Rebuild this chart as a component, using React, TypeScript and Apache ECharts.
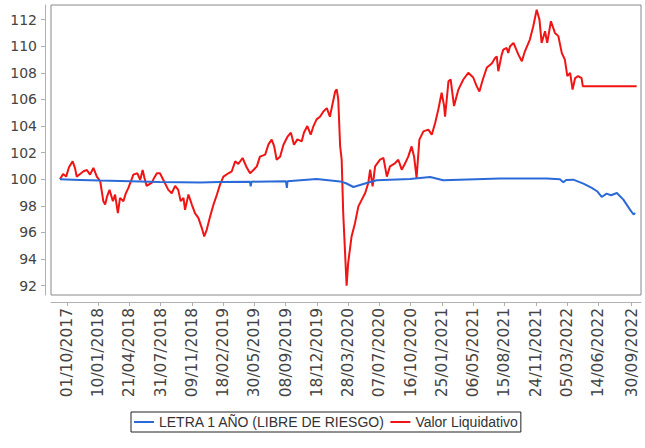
import React, { useEffect, useRef } from "react";
import * as echarts from "echarts";

const tickDates = [
  "2017-10-01", "2018-01-10", "2018-04-21", "2018-07-31", "2018-11-09", "2019-02-18",
  "2019-05-30", "2019-09-08", "2019-12-18", "2020-03-28", "2020-07-07", "2020-10-16",
  "2021-01-25", "2021-05-06", "2021-08-15", "2021-11-24", "2022-03-05", "2022-06-14",
  "2022-09-30",
];
const yTicks = [92, 94, 96, 98, 100, 102, 104, 106, 108, 110, 112];

const seriesNames = ["LETRA 1 AÑO (LIBRE DE RIESGO)", "Valor Liquidativo"];

const redDates = [
  "2017-09-09", "2017-09-19", "2017-09-29", "2017-10-08", "2017-10-20", "2017-10-28", "2017-11-02",
  "2017-11-13", "2017-11-24", "2017-12-05", "2017-12-15", "2017-12-26", "2018-01-06", "2018-01-17",
  "2018-01-27", "2018-02-02", "2018-02-08", "2018-02-16", "2018-02-27", "2018-03-06", "2018-03-15",
  "2018-03-22", "2018-04-02", "2018-04-09", "2018-04-18", "2018-04-27", "2018-05-04", "2018-05-17",
  "2018-05-26", "2018-06-03", "2018-06-09", "2018-06-16", "2018-07-03", "2018-07-10", "2018-07-19",
  "2018-07-29", "2018-08-09", "2018-08-25", "2018-09-05", "2018-09-16", "2018-09-26", "2018-10-04",
  "2018-10-13", "2018-10-18", "2018-10-29", "2018-11-09", "2018-11-19", "2018-11-30", "2018-12-11",
  "2018-12-19", "2018-12-27", "2019-01-07", "2019-01-18", "2019-01-29", "2019-02-08", "2019-02-19",
  "2019-03-07", "2019-03-18", "2019-03-29", "2019-04-08", "2019-04-22", "2019-05-05", "2019-05-16",
  "2019-05-27", "2019-06-07", "2019-06-17", "2019-07-04", "2019-07-14", "2019-07-25", "2019-08-02",
  "2019-08-10", "2019-08-21", "2019-09-01", "2019-09-14", "2019-09-25", "2019-10-05", "2019-10-16",
  "2019-10-30", "2019-11-06", "2019-11-17", "2019-11-28", "2019-12-07", "2019-12-17", "2019-12-28",
  "2020-01-08", "2020-01-19", "2020-01-29", "2020-02-06", "2020-02-15", "2020-02-20", "2020-02-25",
  "2020-03-02", "2020-03-07", "2020-03-12", "2020-03-18", "2020-03-23", "2020-03-28", "2020-04-08",
  "2020-04-19", "2020-04-30", "2020-05-11", "2020-05-22", "2020-06-01", "2020-06-07", "2020-06-15",
  "2020-06-23", "2020-07-09", "2020-07-20", "2020-07-31", "2020-08-10", "2020-08-26", "2020-09-06",
  "2020-09-17", "2020-09-28", "2020-10-08", "2020-10-19", "2020-10-27", "2020-11-04", "2020-11-13",
  "2020-11-26", "2020-12-12", "2020-12-23", "2021-01-03", "2021-01-13", "2021-01-24", "2021-02-01",
  "2021-02-04", "2021-02-15", "2021-02-22", "2021-03-05", "2021-03-19", "2021-04-04", "2021-04-20",
  "2021-05-06", "2021-05-17", "2021-05-26", "2021-06-06", "2021-06-19", "2021-07-05", "2021-07-15",
  "2021-07-21", "2021-07-26", "2021-08-06", "2021-08-11", "2021-08-22", "2021-08-27", "2021-09-02",
  "2021-09-13", "2021-09-29", "2021-10-10", "2021-10-20", "2021-11-05", "2021-11-16", "2021-11-27",
  "2021-12-06", "2021-12-13", "2021-12-24", "2021-12-31", "2022-01-12", "2022-01-25", "2022-02-05",
  "2022-02-16", "2022-02-26", "2022-03-06", "2022-03-15", "2022-03-23", "2022-03-31", "2022-04-10",
  "2022-04-21", "2022-04-25", "2022-10-16",
];
const redValues = [
  100.0, 100.4, 100.2, 100.9, 101.35, 100.8, 100.2,
  100.4, 100.6, 100.7, 100.35, 100.85, 100.2, 99.85,
  98.35, 98.1, 98.7, 99.2, 98.35, 98.85, 97.45,
  98.6, 98.35, 98.9, 99.35, 99.9, 100.35, 100.45,
  99.95, 100.7, 100.1, 99.5, 99.75, 100.1, 100.45,
  100.45, 99.95, 99.2, 98.95, 99.5, 99.2, 98.35,
  98.6, 97.7, 98.85, 98.1, 97.45, 97.1, 96.35,
  95.7, 96.2, 97.2, 98.1, 98.85, 99.6, 100.2,
  100.45, 100.6, 101.35, 101.15, 101.6, 100.9, 100.45,
  100.7, 100.97, 101.7, 101.85, 102.6, 102.98, 102.47,
  101.47, 101.7, 102.6, 103.2, 103.5, 102.6, 103.0,
  102.85, 103.5, 104.0, 103.35, 104.0, 104.5, 104.7,
  105.1, 105.35, 104.7, 105.6, 106.6, 106.75, 106.0,
  102.5, 101.47, 97.47, 94.46, 92.0, 93.7, 95.7,
  96.7, 97.96, 98.47, 98.97, 99.72, 100.72, 99.47,
  100.97, 101.47, 101.6, 100.2, 100.97, 101.2, 101.47,
  100.72, 101.2, 101.7, 102.47, 101.7, 100.1, 102.98,
  103.6, 103.73, 103.35, 104.23, 105.23, 106.5, 105.5,
  104.7, 107.36, 107.5, 105.5, 106.74, 107.5, 108.0,
  107.65, 107.0, 106.6, 107.5, 108.4, 108.7, 109.1,
  109.24, 108.12, 109.37, 109.74, 109.87, 109.5, 110.0,
  110.25, 109.37, 108.87, 109.62, 110.5, 111.5, 112.75,
  112.0, 110.25, 111.13, 110.25, 111.88, 111.0, 110.76,
  109.5, 108.99, 107.75, 108.0, 106.74, 107.6, 107.75,
  107.6, 107.0, 107.0,
];

const blueDates = [
  "2017-09-09", "2017-11-13", "2018-01-17", "2018-04-24", "2018-07-29", "2018-10-02", "2018-12-06",
  "2019-02-08", "2019-05-16", "2019-05-18", "2019-05-21", "2019-09-09", "2019-09-12", "2019-09-14",
  "2019-12-17", "2020-03-02", "2020-03-21", "2020-04-14", "2020-05-27", "2020-06-28", "2020-10-14",
  "2020-12-18", "2021-01-29", "2021-08-01", "2021-12-29", "2022-02-10", "2022-02-21", "2022-03-02",
  "2022-03-25", "2022-04-27", "2022-05-24", "2022-06-10", "2022-06-25", "2022-07-11", "2022-07-25",
  "2022-08-13", "2022-09-03", "2022-09-25", "2022-10-06", "2022-10-11",
];
const blueValues = [
  100.0, 99.95, 99.9, 99.85, 99.8, 99.78, 99.75,
  99.8, 99.82, 99.47, 99.82, 99.85, 99.35, 99.85,
  100.02, 99.84, 99.7, 99.42, 99.72, 99.92, 100.02,
  100.17, 99.92, 100.05, 100.05, 100.0, 99.78, 99.95,
  99.97, 99.67, 99.35, 99.1, 98.67, 98.92, 98.8,
  98.97, 98.47, 97.7, 97.35, 97.47,
];

const toTime = (s: string) => {
  const [y, m, d] = s.split("-").map(Number);
  return new Date(y, m - 1, d).getTime();
};
const pad = (n: number) => (n < 10 ? "0" + n : "" + n);

export default function App() {
  const ref = useRef<HTMLDivElement>(null);
  useEffect(() => {
    if (!ref.current) return;
    const chart = echarts.init(ref.current, null, { renderer: "svg" });
    const xTicks = tickDates.map(toTime);
    chart.setOption({
      animation: false,
      backgroundColor: "#ffffff",
      grid: {
        left: 51,
        top: 5,
        right: 4,
        bottom: 153,
        show: true,
        borderColor: "#888888",
        borderWidth: 1,
        backgroundColor: "#ffffff",
      },
      legend: {
        data: seriesNames,
        left: 131,
        top: 412,
        orient: "horizontal",
        padding: [3, 3, 3, 3],
        itemGap: 5,
        itemWidth: 20,
        itemHeight: 2,
        icon: "rect",
        borderColor: "#222222",
        borderWidth: 1,
        borderRadius: 0,
        backgroundColor: "#ffffff",
        textStyle: { fontFamily: "Liberation Sans", fontSize: 14, color: "#333333" },
      },
      xAxis: {
        type: "value",
        min: toTime("2017-08-11"),
        max: toTime("2022-10-30"),
        offset: 7,
        axisLine: { show: true, lineStyle: { color: "#b0b0b0", width: 1 } },
        axisTick: { show: true, customValues: xTicks, length: 4, lineStyle: { color: "#b0b0b0" } },
        axisLabel: {
          customValues: xTicks,
          rotate: 90,
          margin: 6,
          fontFamily: "DejaVu Sans",
          fontSize: 15.5,
          color: "#444444",
          formatter: (v: number) => {
            const d = new Date(v);
            return pad(d.getDate()) + "/" + pad(d.getMonth() + 1) + "/" + d.getFullYear();
          },
        },
        splitLine: { show: false },
      },
      yAxis: {
        type: "value",
        min: 91.3,
        max: 113.1,
        offset: 6,
        axisLine: { show: true, lineStyle: { color: "#b0b0b0", width: 1 } },
        axisTick: { show: true, customValues: yTicks, length: 4, lineStyle: { color: "#b0b0b0" } },
        axisLabel: {
          customValues: yTicks,
          margin: 8,
          fontFamily: "DejaVu Sans",
          fontSize: 14,
          color: "#444444",
        },
        splitLine: { show: false },
      },
      series: [
        {
          name: seriesNames[1],
          type: "line",
          showSymbol: false,
          symbol: "none",
          color: "#f01414",
          lineStyle: { color: "#f01414", width: 2 },
          data: redDates.map((d, i) => [toTime(d), redValues[i]]),
          z: 2,
        },
        {
          name: seriesNames[0],
          type: "line",
          showSymbol: false,
          symbol: "none",
          color: "#2a6ad8",
          lineStyle: { color: "#2a6ad8", width: 2 },
          data: blueDates.map((d, i) => [toTime(d), blueValues[i]]),
          z: 3,
        },
      ],
    });
    return () => chart.dispose();
  }, []);
  return (
    <div
      ref={ref}
      style={{ position: "fixed", left: 0, top: 0, width: 645, height: 448, background: "#fff" }}
    />
  );
}
